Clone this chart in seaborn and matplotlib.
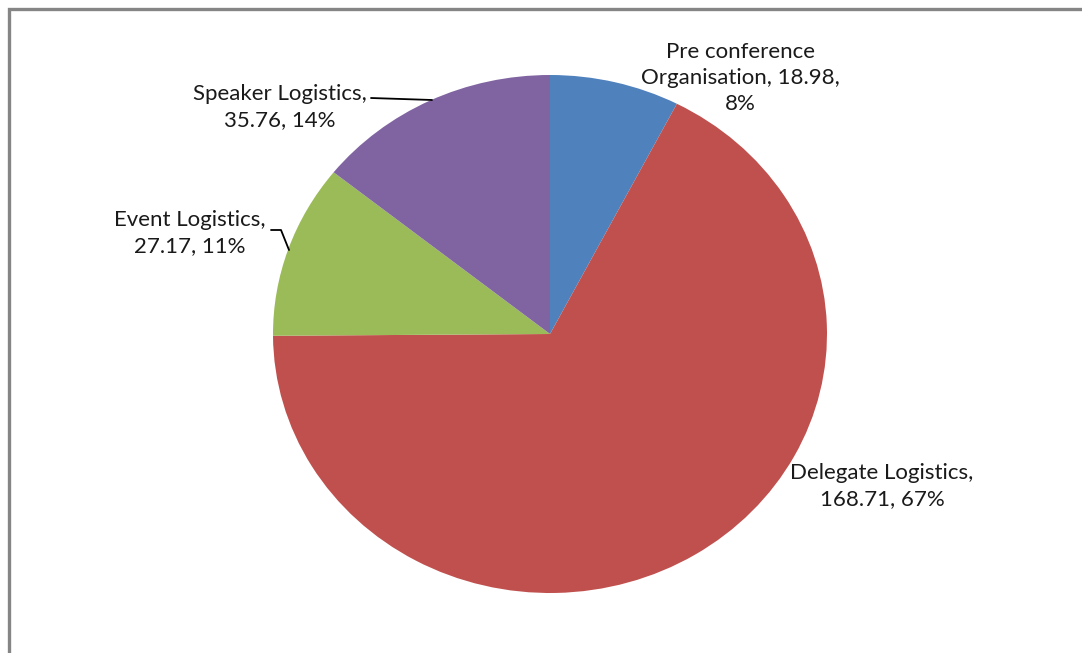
import matplotlib
matplotlib.use("Agg")
import matplotlib.pyplot as plt
import seaborn as sns
from matplotlib.patches import Rectangle

# ---- data ----
categories = ["Pre conference Organisation", "Delegate Logistics", "Event Logistics", "Speaker Logistics"]
values = [18.98, 168.71, 27.17, 35.76]
percents = ["8%", "67%", "11%", "14%"]
label_texts = [
    "Pre conference\nOrganisation, 18.98,\n8%",
    "Delegate Logistics,\n168.71, 67%",
    "Event Logistics,\n27.17, 11%",
    "Speaker Logistics,\n35.76, 14%",
]
colors = sns.color_palette(["#4F81BD", "#C0504D", "#9BBB59", "#8064A2"])

sns.set_theme(style="white")
plt.rcParams["font.family"] = ["Lato", "DejaVu Sans"]

W, H = 1082, 653
fig = plt.figure(figsize=(W / 100, H / 100), dpi=100)
fig.patch.set_facecolor("white")
ax = fig.add_axes([0, 0, 1, 1])

ax.pie(values, colors=colors, startangle=90, counterclock=False,
       wedgeprops=dict(linewidth=0))

# map pixel layout: center (550,334), rx=277, ry=259
cx, cy, rx, ry = 550, 334, 277, 259
ax.set_aspect("auto")
ax.set_xlim(-cx / rx, (W - cx) / rx)
ax.set_ylim(-(H - cy) / ry, cy / ry)
ax.axis("off")

def px(x, y):
    return ((x - cx) / rx, (cy - y) / ry)

label_pos = [(740, 78), (882, 486), (190, 233), (280, 107)]
fs = 16
for t, (lx, ly) in zip(label_texts, label_pos):
    ax.text(*px(lx, ly), t, ha="center", va="center", fontsize=fs,
            color="#1a1a1a", linespacing=1.38)

# leader lines
sx, sy = zip(px(371, 98), px(432, 100))
ax.plot(sx, sy, color="black", lw=1.3)
ex, ey = zip(px(271, 230), px(281, 230), px(289, 250))
ax.plot(ex, ey, color="black", lw=1.3)

# outer frame (partially visible)
fig.patches.append(Rectangle((9 / W, -0.1), 1.2, (H - 9) / H + 0.1,
                             transform=fig.transFigure, fill=False,
                             edgecolor="#858585", linewidth=2.4))

fig.savefig("out.png", dpi=100)
